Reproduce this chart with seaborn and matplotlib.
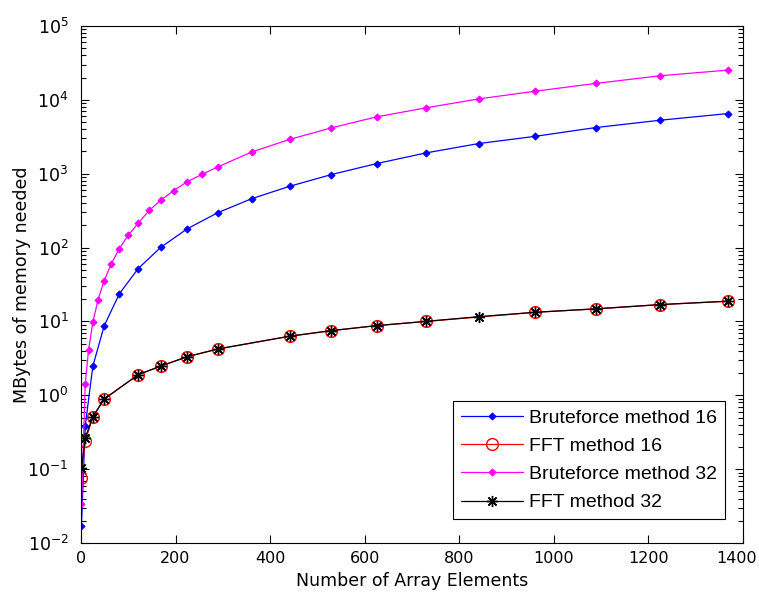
import numpy as np
import pandas as pd
import matplotlib
matplotlib.use("Agg")
import matplotlib.pyplot as plt
import matplotlib.transforms as mtransforms
from matplotlib import font_manager
import seaborn as sns

# values
brute16_x = [1, 9, 25, 49, 81, 121, 169, 225, 289, 361, 441, 529, 625, 729,
             841, 961, 1089, 1225, 1369]
brute16_y = [0.0172, 0.385, 2.46, 8.7, 23.6, 52, 101, 180, 296, 459, 675, 972,
             1370, 1910, 2560, 3210, 4220, 5300, 6530]

brute32_x = [1, 9, 16, 25, 36, 49, 64, 81, 100, 121, 144, 169, 196, 225,
             256, 289, 361, 441, 529, 625, 729, 841, 961, 1089, 1225, 1369]
brute32_y = [0.034, 1.42, 4.1, 9.7, 19.6, 35.4, 60.2, 97, 147, 214, 318,
             439, 590, 781, 982, 1233, 1969, 2910, 4170, 5880, 7790, 10300,
             13100, 16700, 21200, 25300]

fft16_x = [1, 9, 25, 49, 121, 169, 225, 289, 441, 529, 625, 729, 961, 1089,
           1225, 1369]
fft16_y = [0.077, 0.24, 0.51, 0.89, 1.90, 2.49, 3.33, 4.23, 6.3, 7.5, 8.77,
           10.0, 13.3, 14.8, 16.9, 18.8]

fft32_x = [1, 9, 25, 49, 121, 169, 225, 289, 441, 529, 625, 729, 841, 961,
           1089, 1225, 1369]
fft32_y = [0.103, 0.265, 0.51, 0.89, 1.90, 2.49, 3.33, 4.23, 6.3, 7.5, 8.77,
           10.0, 11.6, 13.3, 14.8, 16.9, 18.8]

# look for a narrow sans face for the axis text (like the original)
narrow = None
for f in font_manager.fontManager.ttflist:
    if ('Narrow' in f.name or 'Condensed' in f.name or 'condensed' in str(f.stretch)) \
            and 'Sans' in f.name and 'Mono' not in f.name and f.style == 'normal' \
            and f.weight in (400, 'normal', 'regular'):
        narrow = f
        break

sns.set_style("ticks")
plt.rcParams['font.family'] = ['Liberation Sans', 'DejaVu Sans']
for k in ['text.color', 'axes.labelcolor', 'xtick.color', 'ytick.color', 'axes.edgecolor']:
    plt.rcParams[k] = 'black'

plt.rcParams['mathtext.fontset'] = 'custom'
if narrow is not None:
    plt.rcParams['mathtext.rm'] = narrow.name
    plt.rcParams['font.family'] = [narrow.name, 'Liberation Sans']
    ytick_size = 12.5
    xtick_size = 11.5
    lab_size = 12.5
else:
    plt.rcParams['mathtext.rm'] = 'Liberation Sans'
    ytick_size = 11.5
    xtick_size = 10.5
    lab_size = 13

fig = plt.figure(figsize=(7.59, 5.99), dpi=100)
ax = fig.add_axes([0.1067, 0.0935, 0.8722, 0.8631])

sns.lineplot(x=brute16_x, y=brute16_y, ax=ax, color='#0000ff', marker='D',
             markersize=3.5, markeredgecolor='#0000ff', markeredgewidth=0.8,
             linewidth=0.9, label='Bruteforce method 16')
sns.lineplot(x=fft16_x, y=fft16_y, ax=ax, color='#ff0000', marker='o',
             markersize=8.5, markerfacecolor='none', markeredgecolor='#ff0000',
             markeredgewidth=1.0, linewidth=0.9, label='FFT method 16')
sns.lineplot(x=brute32_x, y=brute32_y, ax=ax, color='#ff00ff', marker='D',
             markersize=3.5, markeredgecolor='#ff00ff', markeredgewidth=0.8,
             linewidth=0.9, label='Bruteforce method 32')
sns.lineplot(x=fft32_x, y=fft32_y, ax=ax, color='black', marker=(8, 2, 0),
             markersize=8, markeredgecolor='black', markeredgewidth=1.0,
             linewidth=0.9, label='FFT method 32')

ax.set_yscale('log')
ax.set_xlim(0, 1400)
ax.set_ylim(1e-2, 1e5)
ax.set_xticks(range(0, 1401, 200))
ax.set_yticks([1e-2, 1e-1, 1e0, 1e1, 1e2, 1e3, 1e4, 1e5])

ax.tick_params(which='both', direction='in', top=True, right=True)
ax.tick_params(axis='y', which='major', pad=9, labelsize=ytick_size)
ax.tick_params(axis='x', which='major', pad=6, labelsize=xtick_size)
ax.tick_params(which='major', length=6, width=0.8)
ax.tick_params(which='minor', length=3.5, width=0.8)
for s in ax.spines.values():
    s.set_linewidth(0.8)

ax.set_xlabel('Number of Array Elements', fontsize=lab_size, labelpad=4)
ax.set_ylabel('MBytes of memory needed', fontsize=lab_size)
ax.yaxis.set_label_coords(-0.076, 0.5)

# the last x label sits on the figure edge, pull it in a little
last = ax.get_xticklabels()[-1]
last.set_transform(last.get_transform() + mtransforms.ScaledTranslation(-6 / 100, 0, fig.dpi_scale_trans))

leg = ax.legend(loc='lower right', bbox_to_anchor=(0.973, 0.046),
                borderaxespad=0, fancybox=False, framealpha=1,
                edgecolor='black', handlelength=3.2,
                handletextpad=0.3, labelspacing=0.55,
                prop={'family': 'Liberation Sans', 'size': 14})
leg.get_frame().set_linewidth(0.8)

fig.savefig('out.png', dpi=100)
